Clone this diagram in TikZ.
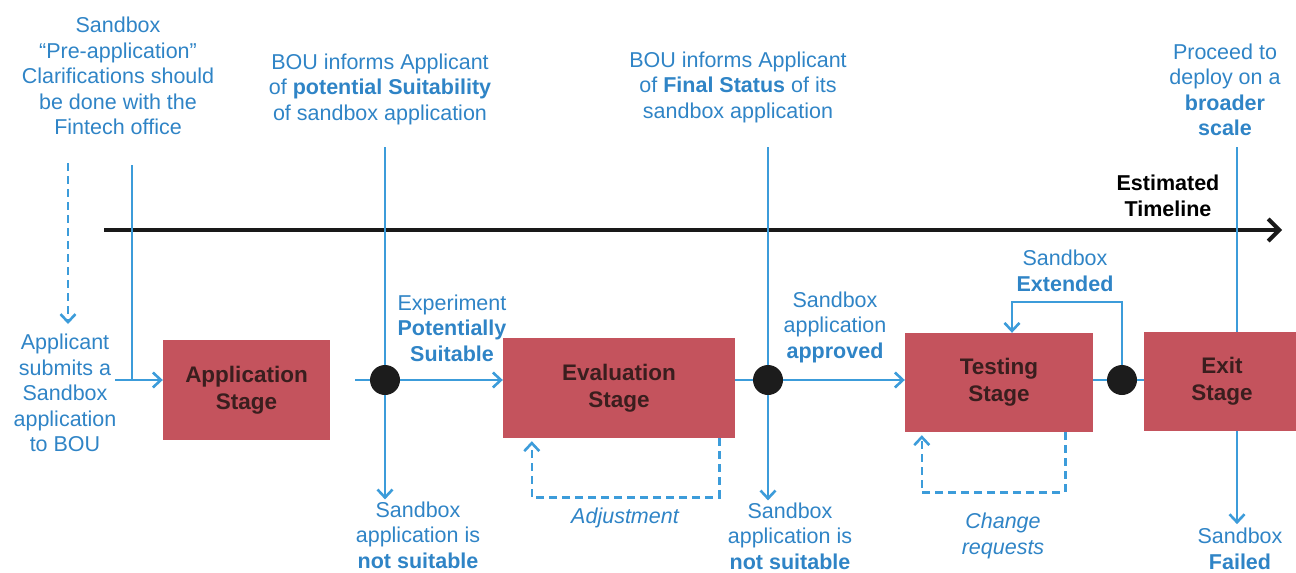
\documentclass[tikz,border=0pt]{standalone}
\usepackage{fontspec}
\setmainfont{Liberation Sans}
\usetikzlibrary{arrows.meta}
\definecolor{lineblue}{HTML}{3C9CDA}
\definecolor{txtblue}{HTML}{2F84C6}
\definecolor{boxred}{HTML}{C4535D}
\definecolor{boxtxt}{HTML}{3A1E1E}
\definecolor{dotblack}{HTML}{1C1C1C}
\begin{document}
\begin{tikzpicture}[x=1pt,y=-1pt,
  lbl/.style={text=txtblue, font=\fontsize{21.5}{25.5}\selectfont, align=center, inner sep=0pt},
  ilbl/.style={lbl, font=\fontsize{21.5}{25.5}\selectfont\itshape},
  est/.style={text=black, font=\fontsize{21.5}{25.5}\selectfont\bfseries, align=center, inner sep=0pt},
  stagebox/.style={fill=boxred, draw=none, text=boxtxt, font=\fontsize{22.5}{27}\selectfont\bfseries, align=center, inner sep=0pt},
  dot/.style={circle, fill=dotblack, draw=none, minimum size=30pt, inner sep=0pt},
  bline/.style={draw=lineblue, line width=2.6pt},
  flow/.style={bline, -{Straight Barb[length=8pt,width=15pt,line width=2.6pt]}},
  dashflow/.style={flow, dash pattern=on 8pt off 5pt},
  timeline/.style={draw=black!90, line width=4pt, -{Straight Barb[length=11pt,width=22pt,line width=4pt]}}
]
\useasboundingbox (0,0) rectangle (1296,573);

% stage boxes
\node[stagebox, minimum width=167pt, minimum height=100pt] (app) at (246.5,390) {Application\\Stage};
\node[stagebox, minimum width=232pt, minimum height=100pt] (eval) at (619,388) {Evaluation\\Stage};
\node[stagebox, minimum width=188pt, minimum height=99pt] (test) at (999,382.5) {Testing\\Stage};
\node[stagebox, minimum width=156pt, minimum height=99pt] (exit) at (1222,381.5) {Exit\\Stage};

% decision dots
\node[dot] (d1) at (385,380) {};
\node[dot] (d2) at (768,380) {};
\node[dot] (d3) at (1122,380) {};

% texts
\node[lbl] (pre) at (118,76) {Sandbox\\“Pre-application”\\Clarifications should\\be done with the\\Fintech office};
\node[lbl] (bou1) at (380,89) {BOU informs Applicant\\of \textbf{potential Suitability}\\of sandbox application};
\node[lbl] (bou2) at (738,87) {BOU informs Applicant\\of \textbf{Final Status} of its\\sandbox application};
\node[lbl] (proc) at (1225,90) {Proceed to\\deploy on a\\\textbf{broader}\\\textbf{scale}};
\node[est] (estl) at (1168,196) {Estimated\\Timeline};
\node[lbl] (appl) at (65,393) {Applicant\\submits a\\Sandbox\\application\\to BOU};
\node[lbl] (expt) at (452,328) {Experiment\\\textbf{Potentially}\\\textbf{Suitable}};
\node[lbl] (appr) at (835,327) {Sandbox\\application\\\textbf{approved}};
\node[lbl] (ns1) at (418,535) {Sandbox\\application is\\\textbf{not suitable}};
\node[lbl] (ns2) at (790,536) {Sandbox\\application is\\\textbf{not suitable}};
\node[lbl] (extd) at (1065,271) {Sandbox\\\textbf{Extended}};
\node[ilbl] (adj) at (625,518) {Adjustment};
\node[ilbl] (chg) at (1003,536) {Change\\requests};
\node[lbl] (fail) at (1240,549) {Sandbox\\\textbf{Failed}};

% coordinates
\coordinate (t0) at (104,230);
\coordinate (t1) at (1282,230);
\coordinate (pa) at (68,163);
\coordinate (pb) at (68,324);
\coordinate (c1) at (132,165);
\coordinate (c0) at (115,380);
\coordinate (a1) at (355,380);
\coordinate (v1) at (385,147);
\coordinate (v2) at (768,147);
\coordinate (v3) at (1237,147);

% timeline
\draw[timeline] (t0) -- (t1);

% left side
\draw[dashflow] (pa) -- (pb);
\draw[bline] (c1) -- (c1 |- c0);
\draw[flow] (c0) -- (c0 -| app.west);

% first decision
\draw[bline] (a1) -- (d1);
\draw[bline] (v1) -- (d1);
\draw[flow] (d1) -- (d1 -| eval.west);
\draw[flow] (d1) -- ([yshift=2pt]d1 |- ns1.north);

% evaluation loop
\draw[dashflow] ([xshift=-16pt]eval.south east) -- ++(0,59) -| ([xshift=29pt,yshift=-3pt]eval.south west);

% second decision
\draw[bline] (d2 -| eval.east) -- (d2);
\draw[bline] (v2) -- (d2);
\draw[flow] (d2) -- (d2 -| test.west);
\draw[flow] (d2) -- ([yshift=2pt]d2 |- ns2.north);

% testing
\draw[bline] (d3 -| test.east) -- (d3) -- (d3 -| exit.west);
\draw[flow] (d3) -- ++(0,-78) -| ([xshift=13pt]test.north);
\draw[dashflow] ([xshift=-28pt]test.south east) -- ++(0,60) -| ([xshift=17pt,yshift=-3pt]test.south west);

% exit
\draw[bline] (v3) -- (v3 |- exit.north);
\draw[flow] (v3 |- exit.south) -- ([yshift=4pt]v3 |- fail.north);
\end{tikzpicture}
\end{document}
